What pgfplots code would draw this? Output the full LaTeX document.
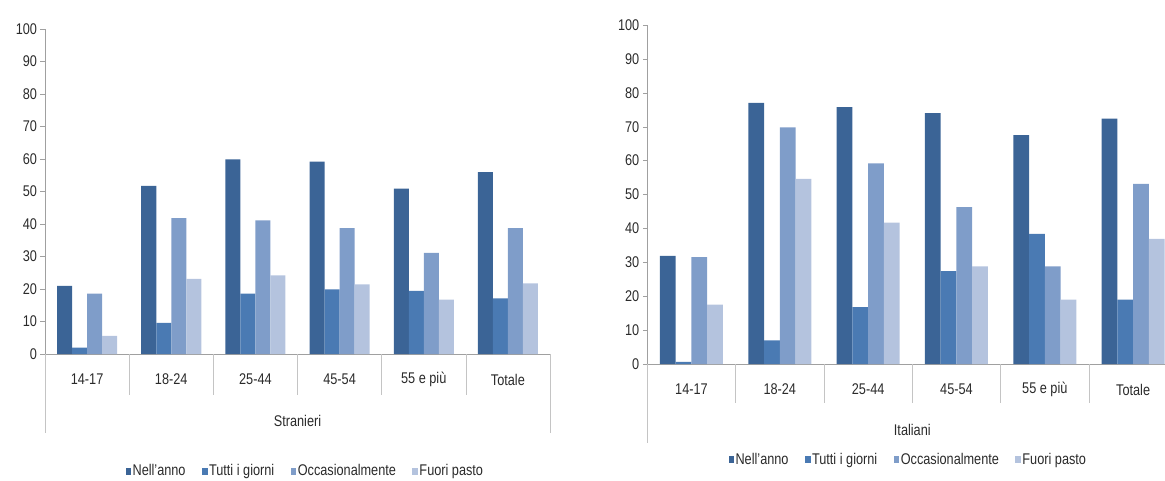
\documentclass[border=0pt]{standalone}
\usepackage{pgfplots}
\pgfplotsset{compat=1.18}
\usepackage{pgfplotstable}
\usepackage{fontspec}
\setmainfont{Liberation Sans}[FakeStretch=0.82]

\definecolor{serA}{HTML}{3B6496}
\definecolor{serB}{HTML}{4A7AB3}
\definecolor{serC}{HTML}{7F9DC9}
\definecolor{serD}{HTML}{B4C3DE}
\definecolor{axgray}{HTML}{A0A0A0}
\definecolor{sepgray}{HTML}{C4C4C4}
\definecolor{txt}{HTML}{2A2A2A}

% Stranieri
\pgfplotstableread{
x nell tutti occ fuori
0 21.0  2.0 18.6  5.6
1 51.7  9.6 41.8 23.1
2 59.9 18.6 41.1 24.2
3 59.2 19.9 38.7 21.4
4 50.9 19.4 31.1 16.7
5 56.0 17.1 38.7 21.7
}\stranieri

% Italiani
\pgfplotstableread{
x nell tutti occ fuori
0 31.9  0.6 31.5 17.5
1 77.0  7.0 69.8 54.6
2 75.8 16.8 59.2 41.7
3 74.0 27.4 46.3 28.8
4 67.5 38.4 28.8 19.0
5 72.4 19.0 53.1 36.9
}\italiani

\pgfplotsset{
  sq legend/.style={legend image code/.code={\fill[##1,draw=none] (0pt,-3.5pt) rectangle (5.5pt,3.5pt);}},
  panel/.style={
    scale only axis,
    ybar=0pt,
    ymin=0, ymax=100,
    xmin=-0.5, xmax=5.5,
    ytick={0,10,...,100},
    xtick={0,...,5},
    xticklabels={14-17,18-24,25-44,45-54,55 e più,Totale},
    axis x line*=bottom,
    axis y line*=left,
    axis line style={axgray,-},
    tick align=outside,
    major tick length=4.5pt,
    ytick style={axgray},
    xtick style={draw=none},
    font=\fontsize{15.5}{18}\selectfont,
    ticklabel style={txt},
    /pgf/number format/assume math mode=true,
    xticklabel style={anchor=center, yshift=-21pt},
    clip=false,
    legend columns=4,
    legend cell align=left,
    legend style={draw=none, fill=none, text=txt, anchor=center,
      nodes={inner sep=1.5pt},
      /tikz/every even column/.append style={column sep=15pt}},
  },
}

\begin{document}
\begin{tikzpicture}
\path[use as bounding box] (0pt,0pt) rectangle (1165pt,480pt);

% left panel
\begin{axis}[
    panel,
    at={(45pt,126pt)}, anchor=south west,
    width=505pt, height=325pt,
    bar width=15pt,
    legend style={at={(0.515,-0.36)}},
  ]
  \addplot[fill=serA, draw=none, sq legend] table[x=x, y=nell]  {\stranieri};
  \addplot[fill=serB, draw=none, sq legend] table[x=x, y=tutti] {\stranieri};
  \addplot[fill=serC, draw=none, sq legend] table[x=x, y=occ]   {\stranieri};
  \addplot[fill=serD, draw=none, sq legend] table[x=x, y=fuori] {\stranieri};
  \legend{Nell'anno, Tutti i giorni, Occasionalmente, Fuori pasto}

  \pgfplotsinvokeforeach{0.5,1.5,2.5,3.5,4.5}{
    \draw[sepgray] (axis cs:#1,0) -- ++(0pt,-41pt);
  }
  \draw[sepgray] (axis cs:-0.5,0) -- ++(0pt,-79pt);
  \draw[sepgray] (axis cs:5.5,0) -- ++(0pt,-79pt);
  \node[txt] at ([yshift=-67pt]axis cs:2.5,0) {Stranieri};
\end{axis}

% right panel
\begin{axis}[
    panel,
    at={(647.3pt,116pt)}, anchor=south west,
    width=530pt, height=339pt,
    bar width=15.75pt,
    legend style={at={(0.492,-0.283)}},
  ]
  \addplot[fill=serA, draw=none, sq legend] table[x=x, y=nell]  {\italiani};
  \addplot[fill=serB, draw=none, sq legend] table[x=x, y=tutti] {\italiani};
  \addplot[fill=serC, draw=none, sq legend] table[x=x, y=occ]   {\italiani};
  \addplot[fill=serD, draw=none, sq legend] table[x=x, y=fuori] {\italiani};
  \legend{Nell'anno, Tutti i giorni, Occasionalmente, Fuori pasto}

  \pgfplotsinvokeforeach{0.5,1.5,2.5,3.5,4.5}{
    \draw[sepgray] (axis cs:#1,0) -- ++(0pt,-39pt);
  }
  \draw[sepgray] (axis cs:-0.5,0) -- ++(0pt,-79pt);
  \draw[sepgray] (axis cs:5.5,0) -- ++(0pt,-79pt);
  \node[txt] at ([yshift=-66pt]axis cs:2.5,0) {Italiani};
\end{axis}
\end{tikzpicture}
\end{document}
